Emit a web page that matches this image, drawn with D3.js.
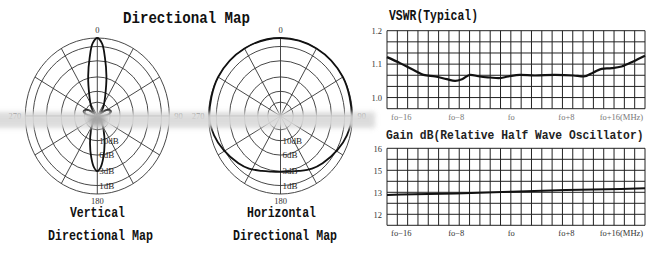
<!DOCTYPE html>
<html>
<head>
<meta charset="utf-8">
<script src="https://cdn.jsdelivr.net/npm/d3@7"></script>
<style>
  body { margin: 0; background: #fff; }
  svg { display: block; }
</style>
</head>
<body>
<script>
// polar patterns: angle in degrees clockwise from top, level in dB below peak
var vertAngles = [0, 4, 8, 14, 23, 35, 43, 50, 58, 66, 74, 82, 90, 100, 120, 134, 154, 164, 171, 176, 180];
var vertDb     = [0, -0.6, -2.4, -5.6, -11, -16.5, -21, -26, -17, -14.5, -14, -16, -22, -30, -30, -23, -14, -8.7, -5.4, -3.6, -3];
var horAngles  = [0, 30, 60, 90, 105, 119, 136, 147, 160, 170, 180];
var horDb      = [0, 0, 0, -0.1, -0.4, -0.9, -1.5, -1.9, -2.5, -2.8, -2.9];
var ringDb      = [0, 1, 3, 6, 10, 15];
var ringLabelDb = [10, 6, 3, 1];
var spokeAngles = [0, 30, 60, 90, 120, 150, 180, 210, 240, 270, 300, 330];
var angleTicks  = [0, 90, 180, 270];

// VSWR and gain vs frequency offset (MHz)
var freqTicks  = [-16, -8, 0, 8, 16];
var freqLabels = ['fo\u221216', 'fo\u22128', 'fo', 'fo+8', 'fo+16(MHz)'];
var vswrFreq = [-18, -16.1, -14.2, -12.7, -11.0, -9.3, -8.1, -7.1, -5.9, -4.5, -3.0, -1.8, -0.4, 1.3, 3.5, 6.4, 9.1, 10.6, 12.0, 13.2, 14.7, 16.1, 17.8, 19.5];
var vswrVal  = [1.121, 1.103, 1.083, 1.068, 1.063, 1.055, 1.050, 1.055, 1.068, 1.063, 1.060, 1.058, 1.063, 1.068, 1.066, 1.068, 1.066, 1.063, 1.075, 1.086, 1.088, 1.093, 1.108, 1.125];
var vswrTicks = [1.0, 1.1, 1.2];
var gainFreq = [-18, -16, -8, 0, 8, 16, 19.5];
var gainVal  = [13.88, 13.9, 13.95, 14.03, 14.1, 14.15, 14.18];
var gainTicks = [16, 15, 14, 13];
var gainTickLabels = ['16', '15', '13', '12'];

var width = 660, height = 262;
var svg = d3.select('body').append('svg')
  .attr('width', width).attr('height', height);

svg.append('rect').attr('width', width).attr('height', height).style('fill', '#fff');

var defs = svg.append('defs');
defs.append('filter').attr('id', 'blur').attr('x', '-10%').attr('y', '-100%').attr('width', '120%').attr('height', '300%')
  .append('feGaussianBlur').attr('stdDeviation', 2.5);

var mono = "'Liberation Mono', 'DejaVu Sans Mono', monospace";
var serif = "'Liberation Serif', 'DejaVu Serif', serif";

var RX = 72, RY = 78, CY = 116;
var field = function(db) { return Math.pow(10, db / 20); };
var rad = function(a) { return a * Math.PI / 180; };

function drawPolar(cx, angles, levels) {
  var g = svg.append('g');
  var sx = d3.scaleLinear().domain([0, 1]).range([0, RX]);
  var sy = d3.scaleLinear().domain([0, 1]).range([0, RY]);
  var px = function(a, f) { return cx + sx(f) * Math.sin(rad(a)); };
  var py = function(a, f) { return CY - sy(f) * Math.cos(rad(a)); };

  g.selectAll('ellipse').data(ringDb).enter().append('ellipse')
    .attr('cx', cx).attr('cy', CY)
    .attr('rx', function(d) { return sx(field(-d)); })
    .attr('ry', function(d) { return sy(field(-d)); })
    .style('fill', 'none').style('stroke', '#333').style('stroke-width', 0.9);

  g.selectAll('line.spoke').data(spokeAngles).enter().append('line')
    .attr('class', 'spoke')
    .attr('x1', cx).attr('y1', CY)
    .attr('x2', function(d) { return px(d, 1); })
    .attr('y2', function(d) { return py(d, 1); })
    .style('stroke', '#333').style('stroke-width', 0.9);

  var pts = angles.map(function(a, i) { return {a: a, f: field(levels[i])}; });
  var full = pts.concat(pts.slice(1, -1).reverse().map(function(p) { return {a: -p.a, f: p.f}; }));
  var line = d3.line()
    .x(function(d) { return px(d.a, d.f); })
    .y(function(d) { return py(d.a, d.f); })
    .curve(d3.curveCatmullRomClosed.alpha(0.5));
  g.append('path').attr('d', line(full))
    .style('fill', 'none').style('stroke', '#111').style('stroke-width', 1.8);

  g.selectAll('text.db').data(ringLabelDb).enter().append('text')
    .attr('class', 'db')
    .attr('x', cx + 2)
    .attr('y', function(d) { return CY + sy(field(-d)) + 3; })
    .text(function(d) { return d + 'dB'; })
    .style('font-family', serif).style('font-size', '9px').style('fill', '#222');

  g.selectAll('text.ang').data(angleTicks).enter().append('text')
    .attr('class', 'ang')
    .attr('x', function(d) { return d === 90 ? cx + RX + 5 : d === 270 ? cx - RX - 4 : cx; })
    .attr('y', function(d) { return d === 0 ? CY - RY - 5 : d === 180 ? CY + RY + 10 : CY + 3; })
    .attr('text-anchor', function(d) { return d === 90 ? 'start' : d === 270 ? 'end' : 'middle'; })
    .text(function(d) { return d; })
    .style('font-family', serif).style('font-size', '8.5px').style('fill', '#333');
}

drawPolar(97.3, vertAngles, vertDb);
drawPolar(280.5, horAngles, horDb);

// washed-out band across the polar plots
svg.append('rect').attr('x', -10).attr('y', 112).attr('width', 385).attr('height', 16)
  .style('fill', '#d9d9d9').style('opacity', 0.92).attr('filter', 'url(#blur)');
svg.append('ellipse').attr('cx', 97).attr('cy', 120).attr('rx', 9).attr('ry', 6)
  .style('fill', '#9a9a9a').style('opacity', 0.8).attr('filter', 'url(#blur)');

function label(txt, x, y, size, len) {
  svg.append('text').attr('x', x).attr('y', y)
    .attr('textLength', len).attr('lengthAdjust', 'spacingAndGlyphs')
    .text(txt)
    .style('font-family', mono).style('font-weight', 'bold')
    .style('font-size', size + 'px').style('fill', '#111');
}
label('Directional Map', 123, 23, 17, 127);
label('Vertical', 70, 217, 14, 55);
label('Directional Map', 48, 240, 14, 105);
label('Horizontal', 247, 217, 14, 69);
label('Directional Map', 233, 240, 14, 104);
label('VSWR(Typical)', 389, 20, 14, 89);

// gain title: plain width fits the chart, stretched vertically a little
svg.append('text')
  .attr('transform', 'translate(386,139) scale(1,1.2)')
  .text('Gain dB(Relative Half Wave Oscillator)')
  .style('font-family', mono).style('font-weight', 'bold')
  .style('font-size', '11.3px').style('fill', '#222');

// rectangular charts
var x = d3.scaleLinear().domain([-18, 19.5]).range([387, 645]);
var colLines = d3.range(26).map(function(i) { return -18 + i * 1.5; });

function drawGrid(y, rows, top, bottom) {
  var g = svg.append('g');
  g.selectAll('line.h').data(rows).enter().append('line')
    .attr('x1', x.range()[0]).attr('x2', x.range()[1])
    .attr('y1', function(d) { return y(d); }).attr('y2', function(d) { return y(d); })
    .style('stroke', '#222').style('stroke-width', 1);
  g.selectAll('line.v').data(colLines).enter().append('line')
    .attr('y1', top).attr('y2', bottom)
    .attr('x1', function(d) { return x(d); }).attr('x2', function(d) { return x(d); })
    .style('stroke', '#222').style('stroke-width', 1);
}

function styleAxis(g) {
  g.select('.domain').remove();
  g.selectAll('.tick line').remove();
  g.selectAll('text').style('font-family', serif).style('font-size', '8.5px').style('fill', '#333');
}

// VSWR
var yV = d3.scaleLinear().domain([1.2 - 0.7 / 3, 1.2]).range([108.7, 30.7]);
drawGrid(yV, d3.range(8).map(function(i) { return 1.2 - i * 0.1 / 3; }), 30.7, 108.7);
svg.append('path')
  .attr('d', d3.line().x(function(d, i) { return x(vswrFreq[i]); }).y(function(d) { return yV(d); })
    .curve(d3.curveMonotoneX)(vswrVal))
  .style('fill', 'none').style('stroke', '#111').style('stroke-width', 2.2);
svg.append('g').attr('transform', 'translate(385,0)')
  .call(d3.axisLeft(yV).tickValues(vswrTicks).tickFormat(d3.format('.1f')).tickSize(0))
  .call(styleAxis);
svg.append('g').attr('transform', 'translate(0,111)')
  .call(d3.axisBottom(x).tickValues(freqTicks).tickFormat(function(d, i) { return freqLabels[i]; }).tickSize(0))
  .call(styleAxis)
  .selectAll('text').style('fill', '#777');

// Gain
var yG = d3.scaleLinear().domain([12.5, 16]).range([225.3, 148.3]);
drawGrid(yG, d3.range(8).map(function(i) { return 16 - i * 0.5; }), 148.3, 225.3);
svg.append('path')
  .attr('d', d3.line().x(function(d, i) { return x(gainFreq[i]); }).y(function(d) { return yG(d); })(gainVal))
  .style('fill', 'none').style('stroke', '#111').style('stroke-width', 2);
svg.append('g').attr('transform', 'translate(385,0)')
  .call(d3.axisLeft(yG).tickValues(gainTicks).tickFormat(function(d, i) { return gainTickLabels[i]; }).tickSize(0))
  .call(styleAxis);
svg.append('g').attr('transform', 'translate(0,227)')
  .call(d3.axisBottom(x).tickValues(freqTicks).tickFormat(function(d, i) { return freqLabels[i]; }).tickSize(0))
  .call(styleAxis);
</script>
</body>
</html>
